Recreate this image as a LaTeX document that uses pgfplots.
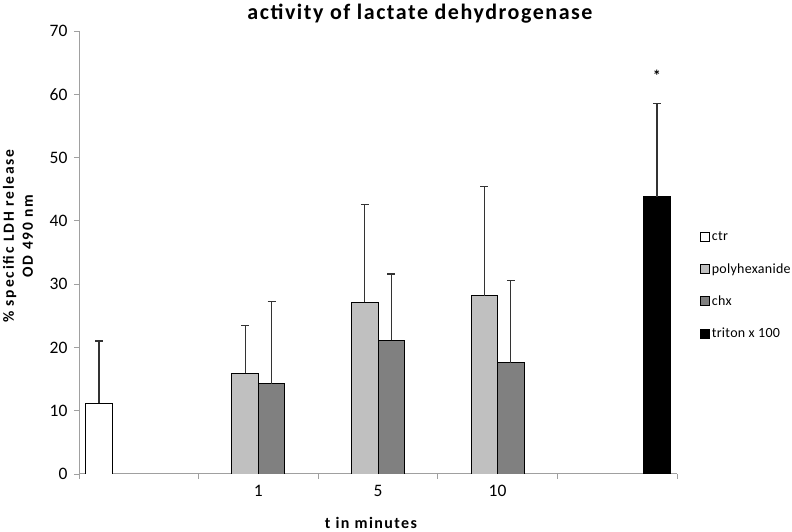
\documentclass[border=0pt]{standalone}
\usepackage{fontspec}
\setmainfont{Carlito}
\usepackage{pgfplots}
\pgfplotsset{compat=1.18}
\definecolor{axgray}{HTML}{A0A0A0}
\definecolor{polycol}{HTML}{C0C0C0}
\definecolor{chxcol}{HTML}{808080}
\pgfplotsset{sqlegend/.style={legend image code/.code={\draw[##1, draw=black, line width=0.6pt] (0pt,-4.5pt) rectangle (9pt,4.5pt);}},
  errs/.style={error bars/.cd, y dir=plus, y explicit,
  error bar style={line width=1.2pt, black!80},
  error mark options={rotate=90, mark size=4pt, line width=1.2pt, black!80}}}
\begin{document}
\begin{tikzpicture}[x=1pt,y=1pt]
\useasboundingbox (0,0) rectangle (792,532);
\begin{axis}[
  at={(79pt,58pt)}, anchor=south west,
  scale only axis, width=598pt, height=443pt,
  xmin=-0.5, xmax=4.5, ymin=0, ymax=70,
  ybar=0pt, bar width=26.5pt,
  axis x line=bottom, axis y line=left,
  axis line style={axgray, line width=1pt, -},
  tick align=outside, major tick length=5pt,
  tick style={axgray, line width=0.8pt},
  ytick={0,10,...,70},
  xtick={-0.5,0.5,1.5,2.5,3.5,4.5}, xticklabels={},
  extra x ticks={1,2,3}, extra x tick labels={1,5,10},
  extra x tick style={major tick length=0pt, xticklabel style={yshift=-8pt}},
  /pgf/number format/assume math mode=true,
  ticklabel style={font=\fontsize{17.5}{20}\selectfont},
  yticklabel style={xshift=-3pt},
  legend style={at={(1.0385,0.4255)}, anchor=west, draw=none, fill=none, inner sep=0pt,
    font=\fontsize{14}{16}\selectfont\addfontfeatures{LetterSpace=2}, row sep=17pt,
    /tikz/every even column/.append style={column sep=3pt}},
  legend cell align=left,
]
\addplot[fill=white, draw=black, line width=0.9pt, sqlegend, errs] coordinates {(0,11.2) +- (0,9.8)};
\addplot[fill=polycol, draw=black, line width=0.9pt, sqlegend, errs] coordinates {(1,15.9) +- (0,7.6) (2,27.1) +- (0,15.5) (3,28.2) +- (0,17.2)};
\addplot[fill=chxcol, draw=black, line width=0.9pt, sqlegend, errs] coordinates {(1,14.3) +- (0,13.0) (2,21.1) +- (0,10.5) (3,17.6) +- (0,13.0)};
\addplot[fill=black, draw=black, line width=0.9pt, sqlegend, errs] coordinates {(4,43.8) +- (0,14.8)};
\legend{ctr, polyhexanide, chx, triton x 100}
\node[font=\bfseries\fontsize{16}{18}\selectfont] at (axis cs:4.332,63.0) {*};
\end{axis}
\node[font=\bfseries\fontsize{22}{26}\selectfont\addfontfeatures{LetterSpace=7}] at (420,518) {activity of lactate dehydrogenase};
\node[rotate=90, align=center, font=\bfseries\fontsize{15.5}{19}\selectfont\addfontfeatures{LetterSpace=12}] at (18,296) {\% specific LDH release\\OD 490 nm};
\node[font=\bfseries\fontsize{16}{18}\selectfont\addfontfeatures{LetterSpace=9}] at (371,9) {t in minutes};
\end{tikzpicture}
\end{document}
